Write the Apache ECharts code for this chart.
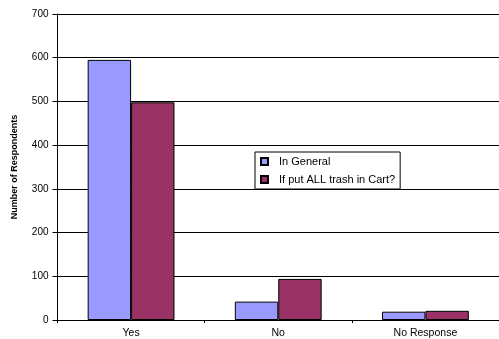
<!DOCTYPE html>
<html>
<head>
<meta charset="utf-8">
<script src="https://cdn.jsdelivr.net/npm/echarts@6/dist/echarts.min.js"></script>
<style>
  html, body { margin: 0; padding: 0; background: #fff; }
  #chart { width: 499px; height: 339px; }
</style>
</head>
<body>
<div id="chart"></div>
<script>
// Survey answers, grouped by response
const categories = ['Yes', 'No', 'No Response'];
const inGeneral = [595, 42, 19];
const allTrashInCart = [498, 94, 21];
const seriesNames = ['In General', 'If put ALL trash in Cart?'];
const yTicks = { min: 0, max: 700, interval: 100 };

const font = 'Liberation Sans, Arial, sans-serif';
const chart = echarts.init(document.getElementById('chart'), null, { renderer: 'canvas' });

chart.setOption({
  animation: false,
  backgroundColor: '#fff',
  grid: { left: 57.5, right: -3, top: 14, bottom: 17 },
  legend: {
    orient: 'vertical',
    left: 255,
    top: 152,
    backgroundColor: '#fff',
    borderColor: '#000',
    borderWidth: 1,
    padding: [4, 5, 4, 5],
    itemWidth: 7,
    itemHeight: 7,
    itemGap: 7,
    icon: 'rect',
    textStyle: { fontFamily: font, fontSize: 11, color: '#000', padding: [0, 0, 0, 6] },
    data: seriesNames
  },
  xAxis: {
    type: 'category',
    data: categories,
    axisLine: { lineStyle: { color: '#000', width: 1 } },
    axisTick: { show: true, length: 3, lineStyle: { color: '#000' } },
    axisLabel: { fontFamily: font, fontSize: 10.5, color: '#000', margin: 8 }
  },
  yAxis: {
    type: 'value',
    min: yTicks.min,
    max: yTicks.max,
    interval: yTicks.interval,
    name: 'Number of Respondents',
    nameLocation: 'middle',
    nameRotate: 90,
    nameGap: 38,
    nameTextStyle: { fontFamily: font, fontSize: 9, fontWeight: 'bold', color: '#000' },
    axisLine: { show: true, lineStyle: { color: '#000', width: 1 } },
    axisTick: { show: true, length: 5, lineStyle: { color: '#000' } },
    axisLabel: { fontFamily: font, fontSize: 10, color: '#000', margin: 9 },
    splitLine: { show: true, lineStyle: { color: '#000', width: 1 } }
  },
  series: [
    {
      name: seriesNames[0],
      type: 'bar',
      data: inGeneral,
      barGap: '0%',
      barCategoryGap: '41%',
      itemStyle: { color: '#9999FF', borderColor: '#000', borderWidth: 1 }
    },
    {
      name: seriesNames[1],
      type: 'bar',
      data: allTrashInCart,
      itemStyle: { color: '#993366', borderColor: '#000', borderWidth: 1 }
    }
  ]
});
</script>
</body>
</html>
